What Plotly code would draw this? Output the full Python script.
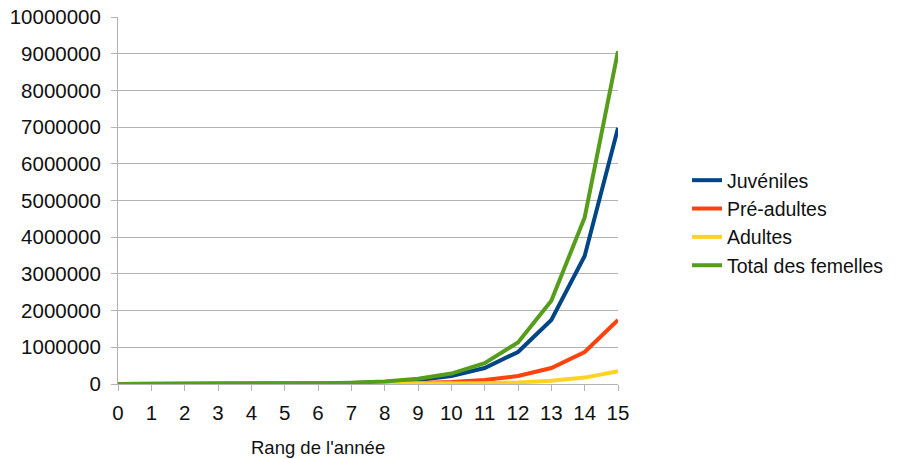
import plotly.graph_objects as go

years = list(range(16))
juveniles = [0, 400, 850, 1700, 3400, 6800, 13600, 27200, 54500, 109000, 218000, 436000, 872000, 1745000, 3490000, 6975000]
pre_adultes = [0, 100, 200, 420, 850, 1700, 3400, 6800, 13600, 27300, 54500, 109000, 218000, 436000, 872000, 1745000]
adultes = [2, 4, 40, 85, 170, 340, 680, 1360, 2720, 5450, 10900, 21800, 43600, 87200, 174500, 349000]
total = [j + p + a for j, p, a in zip(juveniles, pre_adultes, adultes)]

series = [
    ("Juvéniles", juveniles, "#004586"),
    ("Pré-adultes", pre_adultes, "#ff420e"),
    ("Adultes", adultes, "#ffd320"),
    ("Total des femelles", total, "#579d1c"),
]

fig = go.Figure()
for name, vals, col in series:
    fig.add_trace(go.Scatter(x=years, y=vals, name=name, mode="lines",
                             line=dict(color=col, width=4)))

# page has an 8px body margin; figure coordinates are page coordinates minus 8
OFF = 8
FW, FH = 898 - OFF, 459 - OFF
font = "Liberation Sans, Arial, sans-serif"
L, T, W, H = 118 - OFF, 17 - OFF, 500, 367
fig.update_layout(
    width=FW, height=FH,
    margin=dict(l=L, r=FW - L - W, t=T, b=FH - T - H, autoexpand=False),
    paper_bgcolor="white", plot_bgcolor="white",
    font=dict(family=font, size=20, color="#111111"),
    showlegend=True,
    legend=dict(x=1.138, y=(384 - 223) / H, xanchor="left", yanchor="middle",
                font=dict(size=19.5), bgcolor="rgba(0,0,0,0)", tracegroupgap=0),
    xaxis=dict(range=[0, 15], tickmode="array", tickvals=years,
               ticktext=[str(y) for y in years], automargin=False,
               showgrid=False, showline=True, linecolor="#b3b3b3", linewidth=1,
               ticks="outside", ticklen=6, tickcolor="#b3b3b3",
               ticklabelstandoff=4, ticklabeloverflow="allow",
               tickfont=dict(size=20.5), zeroline=False),
    yaxis=dict(range=[0, 10000000], tickmode="array",
               tickvals=[i * 1000000 for i in range(11)],
               ticktext=[str(i * 1000000) for i in range(11)], automargin=False,
               showgrid=True, gridcolor="#b3b3b3", gridwidth=1,
               showline=True, linecolor="#b3b3b3", linewidth=1,
               ticks="outside", ticklen=6, tickcolor="#b3b3b3",
               ticklabelstandoff=6, ticklabeloverflow="allow",
               tickfont=dict(size=20.5), zeroline=False),
    annotations=[dict(text="Rang de l'année", x=(318 - 118) / W, y=(384 - 448) / H,
                      xref="paper", yref="paper", xanchor="center", yanchor="middle",
                      showarrow=False, font=dict(size=18.5))],
)

fig.write_html("out.html")
